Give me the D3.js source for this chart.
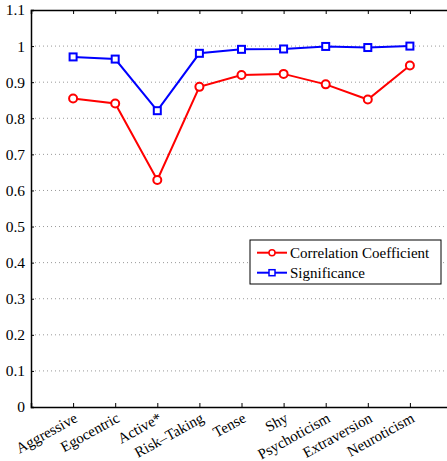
<!DOCTYPE html>
<html>
<head>
<meta charset="utf-8">
<script src="https://cdn.jsdelivr.net/npm/d3@7"></script>
<style>
  body { margin: 0; background: white; }
  svg { display: block; font-family: 'Liberation Serif', 'DejaVu Serif', serif; }
</style>
</head>
<body>
<div id="chart"></div>
<script>
const categories = ['Aggressive', 'Egocentric', 'Active*', 'Risk\u2013Taking', 'Tense', 'Shy',
  'Psychoticism', 'Extraversion', 'Neuroticism'];
const correlation = [0.855, 0.841, 0.629, 0.887, 0.920, 0.923, 0.894, 0.852, 0.946];
const significance = [0.970, 0.964, 0.821, 0.980, 0.991, 0.992, 0.999, 0.996, 1.000];
const yTicks = [0, 0.1, 0.2, 0.3, 0.4, 0.5, 0.6, 0.7, 0.8, 0.9, 1, 1.1];

const width = 447;
const height = 461;
const margin = {left: 31, top: 10, bottom: 54};
const fontFamily = "'Liberation Serif', 'DejaVu Serif', serif";

const svg = d3.select('#chart')
  .append('svg')
  .attr('width', width)
  .attr('height', height);

const xScale = d3.scaleLinear()
  .domain([0, 10])
  .range([margin.left, margin.left + 10 * 42.1]);

const yScale = d3.scaleLinear()
  .domain([0, 1.1])
  .range([height - margin.bottom, margin.top]);

// dotted grid
svg.append('g')
  .selectAll('line')
  .data(yTicks.filter(t => t > 0 && t < 1.1))
  .join('line')
  .attr('x1', margin.left)
  .attr('x2', width)
  .attr('y1', d => yScale(d))
  .attr('y2', d => yScale(d))
  .attr('stroke', '#999')
  .attr('stroke-width', 1)
  .attr('stroke-dasharray', '1,3');

// y axis
const yAxis = svg.append('g')
  .attr('transform', `translate(${margin.left},0)`)
  .call(d3.axisLeft(yScale).tickValues(yTicks).tickSize(-3).tickPadding(6)
    .tickFormat(d => d3.format('')(+d.toFixed(1))));
yAxis.attr('font-family', fontFamily);
yAxis.select('.domain').attr('stroke', 'black').attr('stroke-width', 1.5);
yAxis.selectAll('text').style('font-size', '15.5px').attr('fill', 'black');

// x axis
const xAxis = svg.append('g')
  .attr('transform', `translate(0,${yScale(0)})`)
  .call(d3.axisBottom(xScale).tickValues(d3.range(1, 10)).tickSize(-4)
    .tickFormat(i => categories[i - 1]));
xAxis.attr('font-family', fontFamily);
xAxis.select('.domain').attr('stroke', 'black').attr('stroke-width', 1.5);
xAxis.selectAll('text')
  .style('font-size', '15px')
  .attr('fill', 'black')
  .attr('text-anchor', 'end')
  .attr('dy', null)
  .attr('y', 0)
  .attr('transform', 'translate(5,14) rotate(-29)');

// top border with ticks
const topAxis = svg.append('g')
  .attr('transform', `translate(0,${yScale(1.1)})`)
  .call(d3.axisTop(xScale).tickValues(d3.range(1, 10)).tickSize(-4).tickFormat(''));
topAxis.select('.domain').attr('stroke', 'black').attr('stroke-width', 1.5);

const line = d3.line()
  .x((d, i) => xScale(i + 1))
  .y(d => yScale(d));

svg.append('path')
  .datum(correlation)
  .attr('fill', 'none')
  .attr('stroke', '#ff0000')
  .attr('stroke-width', 2)
  .attr('d', line);

svg.append('path')
  .datum(significance)
  .attr('fill', 'none')
  .attr('stroke', '#0000ff')
  .attr('stroke-width', 2)
  .attr('d', line);

svg.append('g')
  .selectAll('circle')
  .data(correlation)
  .join('circle')
  .attr('cx', (d, i) => xScale(i + 1))
  .attr('cy', d => yScale(d))
  .attr('r', 4)
  .attr('fill', 'white')
  .attr('stroke', '#ff0000')
  .attr('stroke-width', 2);

svg.append('g')
  .selectAll('rect')
  .data(significance)
  .join('rect')
  .attr('x', (d, i) => xScale(i + 1) - 3.5)
  .attr('y', d => yScale(d) - 3.5)
  .attr('width', 7)
  .attr('height', 7)
  .attr('fill', 'white')
  .attr('stroke', '#0000ff')
  .attr('stroke-width', 2);

// legend
const legend = svg.append('g').attr('transform', 'translate(250,240)');
legend.append('rect')
  .attr('width', 191)
  .attr('height', 44)
  .attr('fill', 'white')
  .attr('stroke', 'black')
  .attr('stroke-width', 1);

const legendItems = [
  {name: 'Correlation Coefficient', color: '#ff0000', shape: 'circle'},
  {name: 'Significance', color: '#0000ff', shape: 'square'}
];
legendItems.forEach((item, i) => {
  const g = legend.append('g').attr('transform', `translate(0,${12.7 + i * 20})`);
  g.append('line')
    .attr('x1', 7).attr('x2', 37)
    .attr('stroke', item.color).attr('stroke-width', 2);
  if (item.shape === 'circle') {
    g.append('circle').attr('cx', 22).attr('r', 3)
      .attr('fill', 'white').attr('stroke', item.color).attr('stroke-width', 1.5);
  } else {
    g.append('rect').attr('x', 19).attr('y', -3).attr('width', 6).attr('height', 6)
      .attr('fill', 'white').attr('stroke', item.color).attr('stroke-width', 1.5);
  }
  g.append('text')
    .attr('x', 40)
    .attr('dy', '0.35em')
    .style('font-size', '15px')
    .text(item.name);
});
</script>
</body>
</html>
